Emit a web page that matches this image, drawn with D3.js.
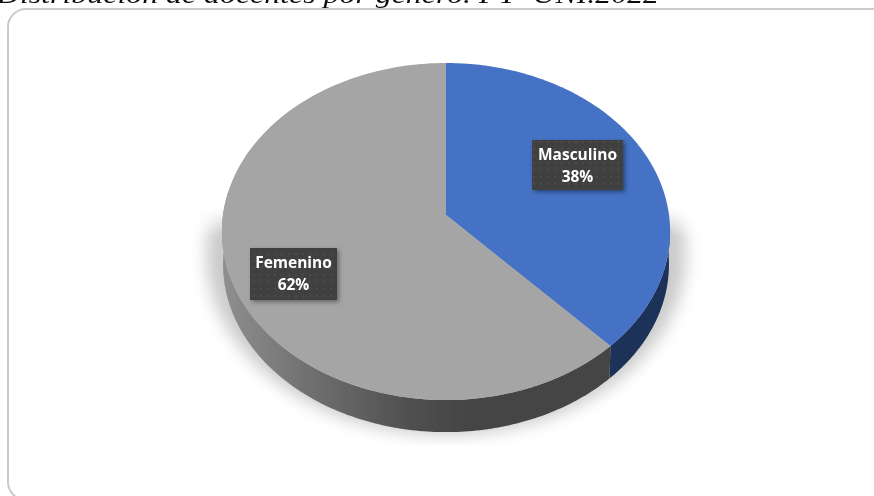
<!DOCTYPE html>
<html><head><meta charset="utf-8">
<script src="https://cdn.jsdelivr.net/npm/d3@7"></script>
<style>html,body{margin:0;padding:0;background:#fff;overflow:hidden}svg{display:block}</style>
</head><body><svg id="c" width="874" height="496"></svg>
<script>
const categories = ["Masculino", "Femenino"];
const values = [38, 62];
const colors = ["#4472c4", "#a5a5a5"];
const titleText = "Distribución de docentes por género. FT- UNI.2022";

const W = 874, H = 496;
const svg = d3.select("#c");
const defs = svg.append("defs");

// perspective projection of the unit disc on to the page
const cx = 446, apexY = 215, a = 223, b = 166.9, k = 0.098;
const project = (th, r = 1, dy = 0, s = 1) => {
  const u = r * Math.sin(th), v = r * Math.cos(th), w = 1 + k * v;
  return [cx + s * a * u / w, apexY + dy + s * b * -v / w];
};
const line = d3.line();
const samples = (t0, t1, n = 160) => d3.range(n + 1).map(i => t0 + (t1 - t0) * i / n);
const pie = d3.pie().sort(null).value(d => d)(values);

// gradients, filters
const sideGrad = defs.append("linearGradient").attr("id", "side")
  .attr("gradientUnits", "userSpaceOnUse").attr("x1", 222).attr("x2", 470).attr("y1", 0).attr("y2", 0);
[[0, "#8f8f8f"], [0.35, "#707070"], [0.75, "#505050"], [1, "#444444"]].forEach(s =>
  sideGrad.append("stop").attr("offset", s[0]).attr("stop-color", s[1]));

defs.append("filter").attr("id", "blur").attr("x", "-20%").attr("y", "-20%").attr("width", "140%").attr("height", "140%")
  .append("feGaussianBlur").attr("stdDeviation", 8);
defs.append("filter").attr("id", "soft").attr("x", "-5%").attr("y", "-5%").attr("width", "110%").attr("height", "110%")
  .append("feGaussianBlur").attr("stdDeviation", 0.7);
const ds = defs.append("filter").attr("id", "boxShadow").attr("x", "-20%").attr("y", "-20%").attr("width", "140%").attr("height", "140%");
ds.append("feDropShadow").attr("dx", 2).attr("dy", 2).attr("stdDeviation", 2).attr("flood-color", "#000").attr("flood-opacity", 0.4);

const fade = defs.append("linearGradient").attr("id", "fade").attr("x1", 0).attr("x2", 0).attr("y1", 0).attr("y2", 1);
[[0, "#000"], [0.12, "#fff"], [1, "#fff"]].forEach(s => fade.append("stop").attr("offset", s[0]).attr("stop-color", s[1]));
defs.append("mask").attr("id", "shadowMask").attr("maskUnits", "userSpaceOnUse")
  .attr("x", 0).attr("y", 0).attr("width", W).attr("height", H)
  .append("rect").attr("x", 0).attr("y", 208).attr("width", W).attr("height", 237).attr("fill", "url(#fade)");

const dots = defs.append("pattern").attr("id", "dots").attr("patternUnits", "userSpaceOnUse").attr("width", 7).attr("height", 7);
dots.append("rect").attr("width", 7).attr("height", 7).attr("fill", "#404040");
dots.append("circle").attr("cx", 2).attr("cy", 2).attr("r", 0.8).attr("fill", "#5c5c5c");

const root = svg.append("g").attr("filter", "url(#soft)");
root.append("rect").attr("width", W).attr("height", H).attr("fill", "#fff");

// title, cut by the top edge
root.append("text").attr("x", -3).attr("y", 3).attr("textLength", 662).attr("lengthAdjust", "spacingAndGlyphs")
  .attr("font-family", "'Liberation Serif', serif").attr("font-style", "italic").attr("font-size", 25)
  .attr("fill", "#111").text(titleText);

// chart frame
root.append("rect").attr("x", 8).attr("y", 9).attr("width", 900).attr("height", 491).attr("rx", 18)
  .attr("fill", "#fff").attr("stroke", "#cbcbcb").attr("stroke-width", 2);

// cast shadow
const tau = 2 * Math.PI;
root.append("g").attr("mask", "url(#shadowMask)")
  .append("path")
  .attr("d", line(samples(0, tau, 240).map(t => project(t, 1, 22, 1.07))) + "Z")
  .attr("fill", "#cbcbcb").attr("filter", "url(#blur)");

const depth = 33;
// rim: only the part of each slice turned towards the viewer
const rim = (t0, t1, fill) => {
  const top = samples(t0, t1).map(t => project(t));
  const bottom = samples(t1, t0).map(t => project(t, 1, depth, 0.995));
  root.append("path").attr("d", line(top.concat(bottom)) + "Z").attr("fill", fill);
};
const rimFrom = 1.62, rimTo = 4.85;
rim(rimFrom, pie[0].endAngle, "#1c3359");
rim(pie[1].startAngle, rimTo, "url(#side)");

// top face
root.selectAll("path.slice").data(pie).join("path").attr("class", "slice")
  .attr("d", d => line([[cx, apexY], ...samples(d.startAngle, d.endAngle).map(t => project(t))]) + "Z")
  .attr("fill", (d, i) => colors[i]);

// data labels
const boxes = [{ x: 532, y: 140, w: 91, h: 50 }, { x: 250, y: 248, w: 87, h: 52 }];
categories.forEach((c, i) => {
  const p = boxes[i], g = root.append("g");
  g.append("rect").attr("x", p.x).attr("y", p.y).attr("width", p.w).attr("height", p.h)
    .attr("fill", "url(#dots)").attr("filter", "url(#boxShadow)");
  [c, values[i] + "%"].forEach((t, j) => g.append("text")
    .attr("x", p.x + p.w / 2).attr("y", p.y + 20 + j * 22).attr("text-anchor", "middle")
    .attr("font-family", "'Open Sans', sans-serif").attr("font-weight", 700).attr("font-size", 15.5)
    .attr("fill", "#fff").text(t));
});
</script></body></html>
